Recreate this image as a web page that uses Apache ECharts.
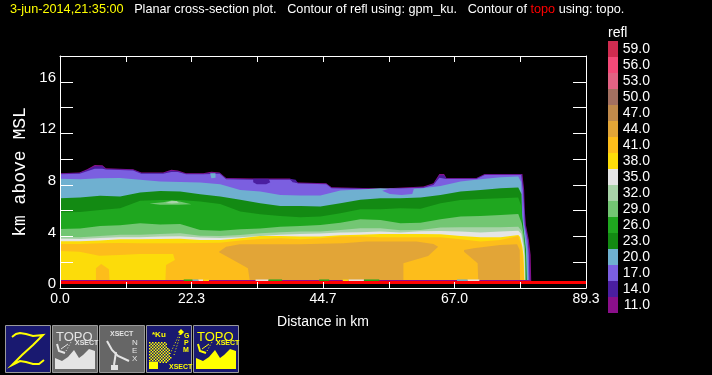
<!DOCTYPE html>
<html>
<head>
<meta charset="utf-8">
<style>html,body{margin:0;padding:0;background:#000}#main{width:712px;height:375px}</style>
<script src="https://cdn.jsdelivr.net/npm/echarts@6/dist/echarts.min.js"></script>
</head>
<body>
<div id="main"></div>
<script>
// legend levels, bottom to top, and their palette
var levels = ['11.0','14.0','17.0','20.0','23.0','26.0','29.0','32.0','35.0','38.0','41.0','44.0','47.0','50.0','53.0','56.0','59.0'];
var palette = ['#8a0f8a','#4a1ea0','#7b5fe0','#6fb0d0','#138a13','#1fa71f','#73c673','#a8d3a8','#e5e5e5','#fcdc0a','#fdbd1b','#e2a537','#c08a4b','#a37060','#e26383','#f44a78','#d02c50'];

var xTicks = [0, 11.1625, 22.325, 33.4875, 44.65, 55.8125, 66.975, 78.1375, 89.3];
var xLabels = ['0.0', '22.3', '44.7', '67.0', '89.3'];
var xLabelValues = [0, 22.325, 44.65, 66.975, 89.3];
var yTicks = [0, 2, 4, 6, 8, 10, 12, 14, 16];
var yLabelValues = [0, 4, 8, 12, 16];

// sample stations along the section (km)
var distKm = [0,3.4,6.8,10.2,13.6,17,20.4,23.8,27.2,30.6,34,37.4,40.8,44.2,47.6,51,54.4,57.8,61.2,64.6,68,71.4,74.8,77.8];

// band tops at the stations (km above MSL)
var top20 = [8.47,8.44,8.52,8.54,8.39,8.26,8.23,8.18,8.05,7.61,7.48,7.22,7.17,7.17,7.56,7.64,7.74,7.69,7.72,7.92,8.26,8.44,8.60,8.65];
var top23 = [6.96,7.02,7.15,7.09,7.40,7.53,7.48,7.28,7.09,6.84,6.58,6.37,6.37,6.32,6.58,6.84,6.96,6.96,7.02,7.22,7.48,7.61,7.74,7.79];
var top26 = [5.88,5.90,6.06,6.19,6.76,6.83,6.83,6.71,6.52,5.93,5.72,5.59,5.49,5.54,5.80,6.11,6.11,6.19,6.14,6.58,6.83,6.91,6.96,7.02];
var top29 = [4.58,4.61,4.82,4.87,5.02,4.92,4.97,4.50,4.45,4.56,4.61,4.76,4.82,4.89,5.07,5.33,5.28,5.02,5.07,5.33,5.54,5.59,5.67,5.75];
var top32 = [3.94,3.94,4.04,4.14,4.14,4.19,4.25,4.06,4.04,4.12,4.25,4.32,4.38,4.38,4.50,4.63,4.63,4.48,4.50,4.69,4.71,4.71,4.71,4.76];
var top35 = [3.83,3.81,3.88,3.94,3.94,3.99,4.01,3.91,3.88,3.94,4.04,4.14,4.19,4.22,4.30,4.32,4.38,4.30,4.40,4.43,4.38,4.30,4.38,4.45];
var top38 = [3.62,3.62,3.68,3.78,3.78,3.81,3.83,3.73,3.73,3.86,4.04,4.04,3.99,3.99,4.09,4.14,4.19,4.19,4.19,4.17,4.04,3.94,3.94,4.12];
var top41 = [3.42,3.42,3.47,3.50,3.47,3.47,3.47,3.50,3.52,3.68,3.81,3.86,3.78,3.86,3.99,3.99,3.94,3.94,3.94,3.94,3.78,3.60,3.73,4.04];

// falling edge of each band past the last station [km, km]
var edge20 = [[78.3,8.2],[78.5,5.67],[78.9,4.5],[79.35,2.95],[79.5,0.62]];
var edge23 = [[78.35,7.3],[78.45,5.67],[78.75,4.35],[79.1,2.95],[79.25,0.62]];
var edge26 = [[78.35,6.3],[78.45,5.0],[78.75,3.9],[79.05,2.6],[79.1,0.62]];
var edge29 = [[78.4,5.0],[78.7,4.2],[78.95,3.0],[79.05,0.62]];
var edge32 = [[78.4,4.4],[78.8,3.3],[78.95,2.5],[79,0.62]];
var edge35 = [[78.3,4.2],[78.65,3.3],[78.85,2.5],[78.95,0.62]];
var edge38 = [[78.1,3.95],[78.5,3.2],[78.7,2.5],[78.85,0.62]];
var edge41 = [[77.9,3.9],[78.3,3.3],[78.55,2.5],[78.8,0.62]];

// the cloud top has its own finer outline
var outline11 = [[0,8.91],[3.3,8.96],[4.6,9.22],[5.9,9.55],[7.2,9.53],[7.8,9.29],[12.4,9.22],[13.8,8.96],[17.5,8.96],[18.9,9.17],[20,9.11],[21.4,8.91],[24.3,8.91],[25.7,9.01],[27.1,8.96],[28.2,8.54],[32.8,8.49],[39,8.49],[40.4,8.18],[45.2,8.13],[46.1,7.82],[54.9,7.72],[61.7,7.87],[63.4,8.13],[64.4,8.85],[65.2,8.85],[65.6,8.54],[70.7,8.54],[72.1,8.85],[78.5,8.85],[78.8,7.61],[78.9,6.06],[79.1,4.89],[79.6,3.73],[79.9,2.56],[80,0.54],[0,0.54]];
var outline14 = [[0,8.87],[3.3,8.92],[4.6,9.15],[5.9,9.45],[7.2,9.45],[7.8,9.24],[12.4,9.17],[13.8,8.92],[17.5,8.92],[18.9,9.1],[20,9.06],[21.4,8.87],[24.3,8.87],[25.7,8.95],[27.1,8.92],[28.2,8.49],[32.8,8.44],[39,8.44],[40.4,8.13],[45.2,8.09],[46.1,7.78],[54.9,7.68],[61.7,7.82],[63.4,8.07],[64.4,8.75],[65.2,8.75],[65.6,8.5],[70.7,8.5],[72.1,8.81],[78.4,8.81],[78.7,7.6],[78.85,6.06],[79,4.9],[79.5,3.73],[79.75,2.56],[79.85,0.62],[0,0.62]];
var outline17 = [[0,8.82],[3.3,8.87],[4.6,9.05],[5.9,9.25],[7.2,9.25],[7.8,9.2],[12.4,9.12],[13.8,8.87],[17.5,8.87],[18.9,9],[20,9],[21.4,8.82],[24.3,8.82],[25.7,8.85],[27.1,8.87],[28.2,8.44],[32.8,8.4],[39,8.4],[40.4,8.1],[45.2,8.05],[46.1,7.74],[54.9,7.64],[61.7,7.78],[63.4,8],[64.4,8.55],[65.6,8.45],[70.7,8.45],[72.1,8.76],[78.3,8.76],[78.6,7.6],[78.8,6.06],[78.9,4.9],[79.4,3.73],[79.6,2.56],[79.7,0.62],[0,0.62]];

// closed cells inside the bands
var cell14a = [[32.8,8.47],[35.4,8.47],[35.7,8.2],[35,8.05],[33.4,8.05],[32.8,8.2]];
var cell14b = [[39,8.47],[40,8.4],[40.4,8.15],[39.5,8.2]];
var cell20a = [[25.5,8.9],[26.4,8.9],[26.4,8.55],[25.7,8.52]];
var cell17a = [[54.7,7.55],[56,7.72],[60.1,7.72],[59.8,7.3],[58,7.22],[56,7.3]];
var cell29a = [[15.2,6.55],[17.5,6.66],[19,6.78],[20.5,6.7],[22.3,6.5],[20,6.45],[17,6.45]];
var cell32a = [[17.9,6.6],[18.9,6.75],[19.8,6.75],[20.2,6.6],[19,6.55]];
var cell38a = [[0,2.87],[3.3,2.82],[6.7,2.51],[10.1,2.56],[13.5,2.64],[19.2,2.64],[19.5,2.17],[18,1.79],[17.9,0.62],[8.4,0.62],[8.3,1.45],[7,1.86],[6.1,1.53],[6.1,0.62],[0,0.62]];
var cell44a = [[27,2.82],[28.2,3.21],[30.5,3.39],[40.7,3.39],[48.1,3.47],[52,3.6],[60.5,3.6],[63.4,3.42],[64.2,3.21],[62.5,2.49],[58.3,1.92],[58.3,0.62],[32.2,0.62],[31.9,1.53],[29.4,2.17],[27,2.77]];
var cell44b = [[68.6,2.95],[70.2,3.08],[74.7,3.34],[77.6,3.39],[78.05,2.95],[78.1,0.62],[71,0.62],[70.9,1.92],[68.6,2.82]];

// specks of echo right above the terrain line: from km, to km, level
var floorFrom = [21, 22.5, 23.5, 24.3, 33.2, 35.4, 44, 48, 49, 51.6, 67.4, 69.2];
var floorTo = [22.5, 23.5, 24.3, 25.3, 35.4, 37.7, 45.7, 49, 51.6, 54.2, 69.2, 71.2];
var floorLevel = ['26.0', '20.0', '35.0', '38.0', '35.0', '26.0', '26.0', '38.0', '35.0', '26.0', '20.0', '35.0'];

// terrain line
var topoDist = [0, 89.3];
var topoHeight = [0.43, 0.43];

function band(tops, edge) {
  var pts = distKm.map(function (d, i) { return [d, tops[i]]; }).concat(edge);
  pts.push([0, 0.62]);
  return pts;
}

// painted back to front
var layers = [
  { level: '11.0', pts: outline11 },
  { level: '14.0', pts: outline14 },
  { level: '17.0', pts: outline17 },
  { level: '20.0', pts: band(top20, edge20) },
  { level: '14.0', pts: cell14a },
  { level: '14.0', pts: cell14b },
  { level: '20.0', pts: cell20a },
  { level: '17.0', pts: cell17a },
  { level: '23.0', pts: band(top23, edge23) },
  { level: '26.0', pts: band(top26, edge26) },
  { level: '29.0', pts: cell29a },
  { level: '32.0', pts: cell32a },
  { level: '29.0', pts: band(top29, edge29) },
  { level: '32.0', pts: band(top32, edge32) },
  { level: '35.0', pts: band(top35, edge35) },
  { level: '38.0', pts: band(top38, edge38) },
  { level: '41.0', pts: band(top41, edge41) },
  { level: '38.0', pts: cell38a },
  { level: '44.0', pts: cell44a },
  { level: '44.0', pts: cell44b }
];
floorFrom.forEach(function (f, i) {
  layers.push({ level: floorLevel[i], pts: [[f, 0.66], [floorTo[i], 0.66], [floorTo[i], 0.54], [f, 0.54]] });
});

var myChart = echarts.init(document.getElementById('main'));
var sans = '"Liberation Sans", Arial, sans-serif';
var white = '#fff';
var yellow = '#ffff00';
var pale = '#e4e4e4';
var rim = '#9a9a9a';

// toolbar icons
function rect(x, y, w, h, fill, stroke) {
  return { type: 'rect', shape: { x: x, y: y, width: w, height: h }, style: { fill: fill, stroke: stroke || null, lineWidth: 1 }, silent: true };
}
function label(x, y, s, size, color, bold) {
  return { type: 'text', x: x, y: y, style: { text: s, fill: color, font: (bold ? 'bold ' : '') + size + 'px ' + sans, textVerticalAlign: 'top' }, silent: true };
}
function poly(pts, fill) {
  return { type: 'polygon', shape: { points: pts }, style: { fill: fill }, silent: true };
}
function line(pts, color, w, dash) {
  return { type: 'polyline', shape: { points: pts }, style: { stroke: color, fill: null, lineWidth: w, lineDash: dash || null }, silent: true };
}
function topoIcon(x, bg, fg) {
  return [
    rect(x + 0.5, 325.5, 45, 47, bg, rim),
    poly([[x + 3, 369], [x + 3, 358], [x + 10, 361], [x + 16, 357], [x + 22, 350], [x + 27, 358], [x + 31, 355], [x + 37, 349], [x + 43, 351], [x + 43, 369]], fg),
    label(x + 4, 331, 'TOPO', 13, fg),
    label(x + 23, 340, 'XSECT', 7, fg, true),
    line([[x + 5, 344], [x + 7, 351], [x + 13, 353]], fg, 2),
    line([[x + 9, 349], [x + 16, 344]], fg, 1),
    line([[x + 14, 351], [x + 19, 342]], fg, 1, [1, 2])
  ];
}
function checker(x0, y0, rows) {
  var out = [];
  rows.forEach(function (n, r) {
    for (var c = 0; c < n; c++) {
      if ((c + r) % 2 === 0) out.push(rect(x0 + c * 1.5, y0 + r * 1.5, 1.5, 1.5, yellow));
    }
  });
  return out;
}
var icons = [].concat(
  [rect(5.5, 325.5, 45, 47, '#191970', rim),
   line([[12, 337], [16, 334], [20, 333], [26, 334], [33, 336], [43, 335], [33, 345], [22, 355], [12, 365], [20, 361], [26, 362], [33, 364], [39, 364], [44, 360]], yellow, 2)],
  topoIcon(52, '#6a6a6a', pale),
  [rect(99.5, 325.5, 45, 47, '#666', rim),
   label(110, 331, 'XSECT', 7, pale, true),
   label(132, 339, 'N', 8, pale),
   label(132, 347, 'E', 8, pale),
   label(132, 355, 'X', 8, pale),
   line([[107, 341], [112, 350], [118, 356], [129, 361]], pale, 2),
   line([[116, 352], [114, 365]], pale, 2),
   rect(111, 365, 7, 5, pale)],
  [rect(146.5, 325.5, 45, 47, '#191970', rim),
   label(152, 331, '*Ku', 8, yellow, true)],
  checker(149, 342, [11, 12, 12, 13, 13, 14, 14, 14, 14, 15, 15, 14, 13, 12]),
  [rect(149, 362, 9, 7, yellow),
   label(184, 333, 'G', 7, yellow, true),
   label(184, 340, 'P', 7, yellow, true),
   label(183, 347, 'M', 7, yellow, true),
   label(169, 364, 'XSECT', 7, yellow, true),
   line([[170, 354], [180, 333]], yellow, 1, [1, 2]),
   line([[174, 355], [181, 333]], yellow, 1, [1, 2]),
   poly([[181, 329], [184, 332], [181, 335], [178, 332]], yellow)],
  topoIcon(193, '#191970', yellow)
);

var titleFont = 12.7;
var option = {
  backgroundColor: '#000',
  animation: false,
  textStyle: { fontFamily: sans },
  title: {
    left: 5, top: -3,
    text: '{d|3-jun-2014,21:35:00}{w|   Planar cross-section plot.   Contour of refl using: gpm_ku.   Contour of }{r|topo}{w| using: topo.}',
    textStyle: {
      fontSize: titleFont,
      rich: {
        d: { color: yellow, fontFamily: sans, fontSize: titleFont, fontWeight: 'normal', lineHeight: 14 },
        w: { color: white, fontFamily: sans, fontSize: titleFont, fontWeight: 'normal', lineHeight: 14 },
        r: { color: '#ff0000', fontFamily: sans, fontSize: titleFont, fontWeight: 'normal', lineHeight: 14 }
      }
    }
  },
  grid: [
    { left: 60, right: 126, top: 56, bottom: 87, outerBoundsMode: 'none' },
    { left: 608, width: 10, top: 41, height: 272, outerBoundsMode: 'none' }
  ],
  xAxis: [
    {
      gridIndex: 0, type: 'value', min: 0, max: 89.3, z: 10,
      name: 'Distance in km', nameLocation: 'middle', nameGap: 27, nameMoveOverlap: false,
      nameTextStyle: { color: white, fontSize: 14, fontFamily: sans },
      axisLine: { onZero: false, lineStyle: { color: white } },
      axisTick: { inside: true, length: 6, lineStyle: { color: white }, customValues: xTicks },
      axisLabel: {
        color: white, fontSize: 14, fontFamily: sans, margin: 4, customValues: xLabelValues,
        hideOverlap: false,
        formatter: function (v) { return xLabels[xLabelValues.indexOf(v)]; }
      },
      splitLine: { show: false }
    },
    {
      gridIndex: 0, type: 'value', position: 'top', min: 0, max: 89.3, z: 10,
      axisLine: { onZero: false, lineStyle: { color: white } },
      axisTick: { inside: true, length: 6, lineStyle: { color: white }, customValues: xTicks },
      axisLabel: { show: false }, splitLine: { show: false }
    },
    { gridIndex: 1, type: 'value', min: 0, max: 1, show: false }
  ],
  yAxis: [
    {
      gridIndex: 0, type: 'value', min: 0, max: 18, z: 10,
      name: 'km above MSL', nameLocation: 'middle', nameGap: 31, nameRotate: 90, nameMoveOverlap: false,
      nameTextStyle: { color: white, fontSize: 18, fontFamily: '"Liberation Mono", monospace' },
      axisLine: { onZero: false, lineStyle: { color: white } },
      axisTick: { inside: true, length: 13, lineStyle: { color: white }, customValues: yTicks },
      axisLabel: {
        color: white, fontSize: 15, fontFamily: sans, margin: 4, customValues: yLabelValues,
        hideOverlap: false, verticalAlign: 'bottom', lineHeight: 8
      },
      splitLine: { show: false }
    },
    {
      gridIndex: 0, type: 'value', position: 'right', min: 0, max: 18, z: 10,
      axisLine: { onZero: false, lineStyle: { color: white } },
      axisTick: { inside: true, length: 13, lineStyle: { color: white }, customValues: yTicks },
      axisLabel: { show: false }, splitLine: { show: false }
    },
    {
      gridIndex: 1, type: 'category', position: 'right', data: levels,
      name: 'refl', nameLocation: 'end', nameGap: 1,
      nameTextStyle: { color: white, fontSize: 14, fontFamily: sans, align: 'left', verticalAlign: 'bottom' },
      axisLine: { show: false }, axisTick: { show: false },
      axisLabel: { color: white, fontSize: 14, fontFamily: sans, margin: 32, align: 'right', interval: 0 }
    }
  ],
  graphic: { elements: icons },
  series: [
    {
      name: 'refl', type: 'custom', coordinateSystem: 'cartesian2d', xAxisIndex: 0, yAxisIndex: 0, clip: true,
      data: layers.map(function (l, i) { return [i]; }),
      encode: { x: [], y: [] },
      renderItem: function (params, api) {
        var layer = layers[api.value(0)];
        return {
          type: 'polygon',
          shape: { points: layer.pts.map(function (p) { return api.coord(p); }) },
          style: { fill: palette[levels.indexOf(layer.level)] }
        };
      }
    },
    {
      name: 'topo', type: 'line', xAxisIndex: 0, yAxisIndex: 0, symbol: 'none', z: 5,
      data: topoDist.map(function (d, i) { return [d, topoHeight[i]]; }),
      lineStyle: { color: '#ff0000', width: 3 }
    },
    {
      name: 'legend', type: 'bar', xAxisIndex: 2, yAxisIndex: 2, barWidth: '100%',
      data: levels.map(function (l, i) { return { value: 1, itemStyle: { color: palette[i] } }; })
    }
  ]
};
myChart.setOption(option);
</script>
</body>
</html>
